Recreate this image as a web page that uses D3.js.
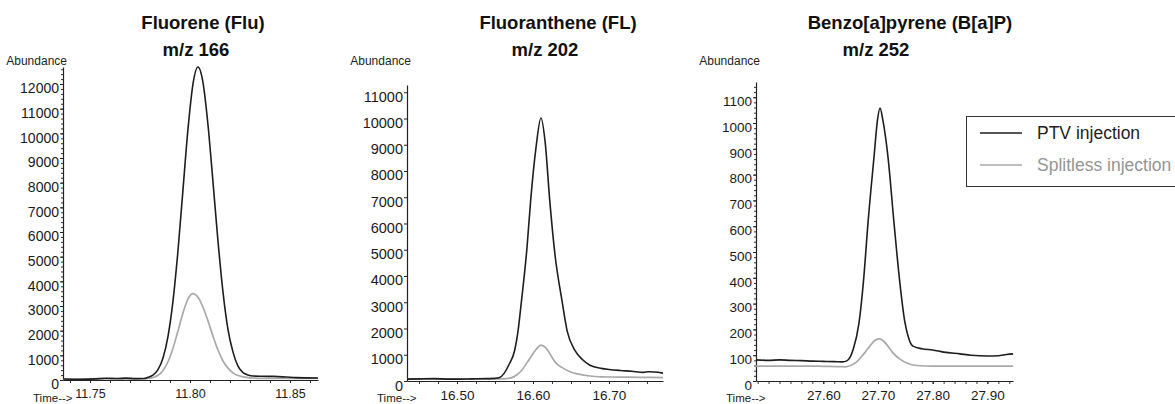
<!DOCTYPE html>
<html>
<head>
<meta charset="utf-8">
<script src="https://cdn.jsdelivr.net/npm/d3@7"></script>
<style>
  html, body { margin: 0; padding: 0; background: #fff; }
  svg { display: block; font-family: "Liberation Sans", Arial, sans-serif; }
</style>
</head>
<body>
<svg id="chart" width="1175" height="404"></svg>
<script>
// ---------------- DATA ----------------
const seriesNames = ["PTV injection", "Splitless injection"];

const panelTitles = ["Fluorene (Flu)", "Fluoranthene (FL)", "Benzo[a]pyrene (B[a]P)"];
const panelMz = ["m/z 166", "m/z 202", "m/z 252"];

// tick labels
const fluYTicks = [0,1000,2000,3000,4000,5000,6000,7000,8000,9000,10000,11000,12000];
const flYTicks  = [0,1000,2000,3000,4000,5000,6000,7000,8000,9000,10000,11000];
const bapYTicks = [0,100,200,300,400,500,600,700,800,900,1000,1100];
const fluXTicks = [11.75, 11.80, 11.85];
const flXTicks  = [16.50, 16.60, 16.70];
const bapXTicks = [27.60, 27.70, 27.80, 27.90];

// Fluorene m/z 166  [time (min), abundance]
const fluPTV = [
  [11.7365,40],[11.745,30],[11.752,45],[11.758,70],[11.763,60],[11.768,75],[11.773,55],[11.777,60],
  [11.7790,110],[11.7815,200],[11.7840,420],[11.7865,890],[11.7890,1765],[11.7915,3205],[11.7940,5250],
  [11.7965,7730],[11.7990,10180],[11.8015,12010],[11.8040,12690],[11.8065,12060],[11.8090,10340],
  [11.8115,8020],[11.8140,5620],[11.8165,3560],[11.8190,2040],[11.8215,1130],[11.8240,560],
  [11.8265,300],[11.8290,200],[11.8315,160],[11.836,150],[11.842,145],[11.848,120],[11.853,95],
  [11.858,85],[11.864,80]
];
const fluSPL = [
  [11.7365,35],[11.745,30],[11.752,40],[11.760,50],[11.768,45],[11.775,45],
  [11.7790,60],[11.7815,100],[11.7840,190],[11.7865,390],[11.7890,740],[11.7915,1290],[11.7940,1990],
  [11.7965,2720],[11.7990,3290],[11.8015,3500],[11.8040,3355],[11.8065,2950],[11.8090,2390],
  [11.8115,1775],[11.8140,1215],[11.8165,770],[11.8190,480],[11.8215,290],[11.8240,180],
  [11.8265,130],[11.8290,100],[11.8315,80],[11.836,65],[11.845,60],[11.855,60],[11.864,60]
];

// Fluoranthene m/z 202
const flPTV = [
  [16.4342,70],[16.45,80],[16.47,90],[16.49,70],[16.50,70],[16.52,80],[16.54,90],[16.55,100],
  [16.556,130],[16.562,290],[16.568,600],[16.576,1180],[16.580,1830],[16.585,3090],[16.592,5040],
  [16.597,6900],[16.604,8900],[16.6105,10020],[16.616,9100],[16.622,6900],[16.629,4800],
  [16.638,3090],[16.645,1900],[16.655,1180],[16.665,820],[16.675,600],[16.690,480],[16.700,440],
  [16.715,400],[16.730,370],[16.745,330],[16.752,350],[16.760,340],[16.7711,300]
];
const flSPL = [
  [16.4342,70],[16.46,75],[16.49,70],[16.52,75],[16.55,80],[16.565,90],[16.572,130],[16.578,220],
  [16.585,400],[16.592,690],[16.598,950],[16.604,1200],[16.6105,1370],[16.617,1260],[16.623,1000],
  [16.630,690],[16.638,520],[16.648,360],[16.660,260],[16.675,190],[16.690,160],[16.710,150],
  [16.740,140],[16.7711,130]
];

// Benzo[a]pyrene m/z 252
const bapPTV = [
  [27.477,82],[27.50,80],[27.52,82],[27.54,80],[27.56,79],[27.58,77],[27.60,76],[27.62,75],
  [27.635,74],[27.643,78],[27.6543,120],[27.6653,225],[27.6740,400],[27.6817,612],[27.6927,868],
  [27.6990,1010],[27.7037,1058],[27.7090,1010],[27.7183,868],[27.7293,612],[27.7390,400],
  [27.7494,225],[27.7570,160],[27.7640,135],[27.78,125],[27.80,120],[27.82,112],[27.85,105],
  [27.87,100],[27.90,97],[27.92,98],[27.935,103],[27.947,105]
];
const bapSPL = [
  [27.477,58],[27.52,58],[27.56,58],[27.60,57],[27.63,56],[27.64,55],[27.65,60],[27.66,72],
  [27.67,95],[27.676,110],[27.685,135],[27.693,155],[27.702,163],[27.71,155],[27.72,130],
  [27.727,110],[27.74,85],[27.755,68],[27.771,60],[27.80,58],[27.85,58],[27.90,58],[27.947,58]
];

// ---------------- LAYOUT ----------------
const panels = [
  { title: panelTitles[0], mz: panelMz[0], titleX: 203, mzX: 196,
    xDomain: [11.7365, 11.864], xRange: [63, 318], yDomain: [0, 12690], yRange: [380, 67],
    xTicks: fluXTicks, yTicks: fluYTicks, xMinor: 0.01, yMinor: 200,
    xFont: 12.5, yFont: 14, ptv: fluPTV, spl: fluSPL },
  { title: panelTitles[1], mz: panelMz[1], titleX: 558, mzX: 545,
    xDomain: [16.4342, 16.7711], xRange: [407, 663], yDomain: [0, 11276], yRange: [381, 85],
    xTicks: flXTicks, yTicks: flYTicks, xMinor: 0.025, yMinor: null,
    xFont: 13.5, yFont: 14.5, ptv: flPTV, spl: flSPL },
  { title: panelTitles[2], mz: panelMz[2], titleX: 910, mzX: 876,
    xDomain: [27.4770, 27.9468], xRange: [756, 1013], yDomain: [0, 1159], yRange: [381, 82],
    xTicks: bapXTicks, yTicks: bapYTicks, xMinor: 0.02, yMinor: 20,
    xFont: 13.5, yFont: 13.5, ptv: bapPTV, spl: bapSPL }
];

const colors = { ptv: "#1e1e1e", spl: "#a9a9a9" };
const svg = d3.select("#chart");

panels.forEach(p => {
  const x = d3.scaleLinear().domain(p.xDomain).range(p.xRange);
  const y = d3.scaleLinear().domain(p.yDomain).range(p.yRange);
  const g = svg.append("g");

  // titles
  g.append("text").attr("x", p.titleX).attr("y", 23).attr("dy", "0.35em")
    .attr("text-anchor", "middle").attr("font-size", 18.5).attr("font-weight", "bold")
    .attr("fill", "#111").text(p.title);
  g.append("text").attr("x", p.mzX).attr("y", 50).attr("dy", "0.35em")
    .attr("text-anchor", "middle").attr("font-size", 18.5).attr("font-weight", "bold")
    .attr("fill", "#111").text(p.mz);

  // Abundance label
  g.append("text").attr("x", p.xRange[0] + 4).attr("y", 61).attr("dy", "0.35em")
    .attr("text-anchor", "end").attr("font-size", 12).attr("fill", "#222").text("Abundance");
  // Time label
  g.append("text").attr("x", p.xRange[0] - 30).attr("y", 398).attr("dy", "0.35em")
    .attr("font-size", 11.5).attr("fill", "#222").text("Time-->");

  // minor y ticks
  if (p.yMinor) {
    const minor = d3.range(0, p.yDomain[1], p.yMinor);
    g.append("g").attr("transform", `translate(${p.xRange[0]},0)`)
      .call(d3.axisLeft(y).tickValues(minor).tickSize(2).tickFormat(""))
      .call(a => a.select(".domain").remove())
      .call(a => a.selectAll("line").attr("stroke", "#333"));
  }
  // minor x ticks
  const xm = d3.range(Math.ceil(p.xDomain[0] / p.xMinor) * p.xMinor, p.xDomain[1], p.xMinor);
  g.append("g").attr("transform", `translate(0,${p.yRange[0]})`)
    .call(d3.axisBottom(x).tickValues(xm).tickSize(3).tickFormat(""))
    .call(a => a.select(".domain").remove())
    .call(a => a.selectAll("line").attr("stroke", "#333"));

  // y axis
  const ya = g.append("g").attr("transform", `translate(${p.xRange[0]},0)`)
    .call(d3.axisLeft(y).tickValues(p.yTicks).tickSize(3).tickPadding(1).tickFormat(d3.format("d")).tickSizeOuter(0));
  ya.select(".domain").attr("stroke", "#222").attr("stroke-width", 1.2);
  ya.selectAll("line").attr("stroke", "#222");
  ya.selectAll("text").attr("font-size", p.yFont).attr("fill", "#1a1a1a")
    .attr("dy", "0.62em").style("font-family", "'Liberation Sans', Arial, sans-serif");

  // x axis
  const xa = g.append("g").attr("transform", `translate(0,${p.yRange[0]})`)
    .call(d3.axisBottom(x).tickValues(p.xTicks).tickSize(3).tickPadding(6).tickFormat(d3.format(".2f")).tickSizeOuter(0));
  xa.select(".domain").attr("stroke", "#222").attr("stroke-width", 1.2);
  xa.selectAll("line").attr("stroke", "#222");
  xa.selectAll("text").attr("font-size", p.xFont).attr("fill", "#1a1a1a")
    .style("font-family", "'Liberation Sans', Arial, sans-serif");

  const line = d3.line().x(d => x(d[0])).y(d => y(d[1])).curve(d3.curveMonotoneX);
  g.append("path").datum(p.spl).attr("d", line).attr("fill", "none")
    .attr("stroke", colors.spl).attr("stroke-width", 1.7);
  g.append("path").datum(p.ptv).attr("d", line).attr("fill", "none")
    .attr("stroke", colors.ptv).attr("stroke-width", 1.6);
});

// ---------------- LEGEND ----------------
const lg = svg.append("g");
lg.append("rect").attr("x", 966.5).attr("y", 116.5).attr("width", 220).attr("height", 70)
  .attr("fill", "#fff").attr("stroke", "#333").attr("stroke-width", 1);
[{ name: seriesNames[0], c: colors.ptv, t: "#222", yy: 133 },
 { name: seriesNames[1], c: colors.spl, t: "#959595", yy: 165 }].forEach(e => {
  lg.append("line").attr("x1", 980).attr("x2", 1022).attr("y1", e.yy).attr("y2", e.yy)
    .attr("stroke", e.c).attr("stroke-width", 1.5);
  lg.append("text").attr("x", 1037).attr("y", e.yy).attr("dy", "0.35em")
    .attr("font-size", 17.5).attr("fill", e.t).text(e.name);
});
</script>
</body>
</html>
